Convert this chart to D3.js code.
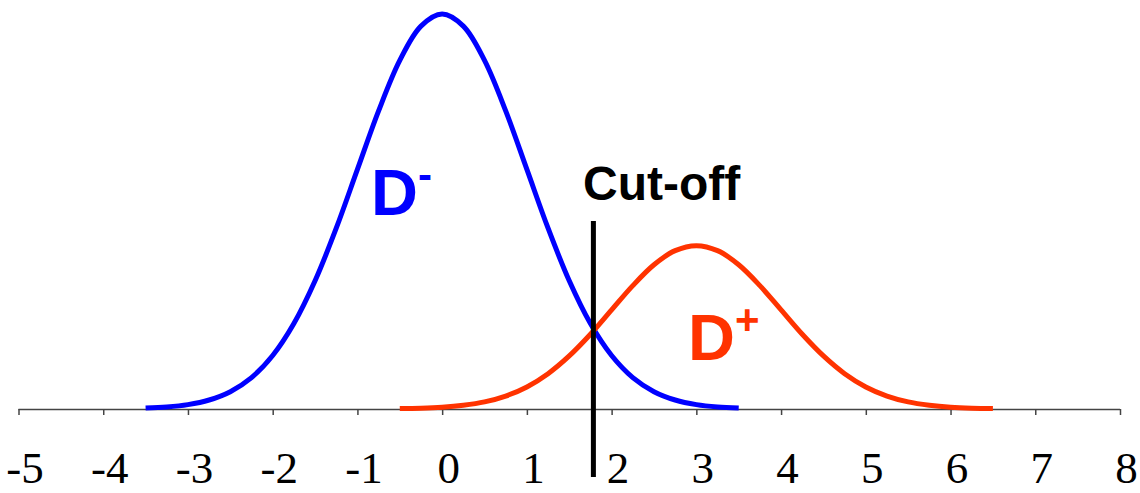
<!DOCTYPE html>
<html>
<head>
<meta charset="utf-8">
<script src="https://cdn.jsdelivr.net/npm/d3@7"></script>
<style>
  html, body { margin: 0; padding: 0; background: #fff; }
  svg { display: block; }
</style>
</head>
<body>
<svg id="chart" width="1140" height="493"></svg>
<script>
// Score axis ticks
const tickValues = [-5, -4, -3, -2, -1, 0, 1, 2, 3, 4, 5, 6, 7, 8];

// Non-diseased group (D-): score positions and curve heights
const negX = [-3.5, -3.25, -3, -2.75, -2.5, -2.25, -2, -1.75, -1.5, -1.25, -1, -0.75, -0.5, -0.25,
              0, 0.25, 0.5, 0.75, 1, 1.25, 1.5, 1.75, 2, 2.25, 2.5, 2.75, 3, 3.25, 3.5];
const negY = [0.0009, 0.0020, 0.0044, 0.0091, 0.0175, 0.0317, 0.0540, 0.0863, 0.1295, 0.1826, 0.2420, 0.3011, 0.3521, 0.3867,
              0.3989, 0.3867, 0.3521, 0.3011, 0.2420, 0.1826, 0.1295, 0.0863, 0.0540, 0.0317, 0.0175, 0.0091, 0.0044, 0.0020, 0.0009];

// Diseased group (D+): score positions and curve heights
const posX = [-0.5, -0.25, 0, 0.25, 0.5, 0.75, 1, 1.25, 1.5, 1.75, 2, 2.25, 2.5, 2.75,
              3, 3.25, 3.5, 3.75, 4, 4.25, 4.5, 4.75, 5, 5.25, 5.5, 5.75, 6, 6.25, 6.5];
const posY = [0.0004, 0.0008, 0.0018, 0.0038, 0.0072, 0.0131, 0.0223, 0.0357, 0.0536, 0.0755, 0.1001, 0.1246, 0.1457, 0.1600,
              0.1650, 0.1600, 0.1457, 0.1246, 0.1001, 0.0755, 0.0536, 0.0357, 0.0223, 0.0131, 0.0072, 0.0038, 0.0018, 0.0008, 0.0004];

// Decision threshold
const cutoff = [1.785];

const svg = d3.select("#chart");

const x = d3.scaleLinear().domain([-5, 8]).range([18.5, 1120]);
const y = d3.scaleLinear().domain([0, 0.4]).range([409, 13]);

// Axis
const axis = d3.axisBottom(x)
  .tickValues(tickValues)
  .tickSize(6)
  .tickPadding(0)
  .tickFormat(d3.format("d"));

const gAxis = svg.append("g")
  .attr("transform", `translate(0, ${y(0)})`)
  .call(axis);

gAxis.select(".domain")
  .attr("stroke", "#444")
  .attr("stroke-width", 1.5)
  .attr("d", `M${x(-5)},0.5H${x(8)}`);
gAxis.selectAll(".tick line").attr("stroke", "#444").attr("stroke-width", 1.5);
gAxis.selectAll(".tick text")
  .attr("font-family", "'Liberation Serif', 'Times New Roman', serif")
  .attr("font-size", 45)
  .attr("fill", "#000")
  .attr("dy", 0)
  .attr("x", 6)
  .attr("y", 74)
  .text(d => d < 0 ? "-" + Math.abs(d) : String(d));

const line = d3.line()
  .x(d => x(d[0]))
  .y(d => y(d[1]))
  .curve(d3.curveCatmullRom);

// D- curve
svg.append("path")
  .datum(negX.map((v, i) => [v, negY[i]]))
  .attr("fill", "none")
  .attr("stroke", "#0000ff")
  .attr("stroke-width", 5)
  .attr("stroke-linejoin", "round")
  .attr("d", line);

// D+ curve
svg.append("path")
  .datum(posX.map((v, i) => [v, posY[i]]))
  .attr("fill", "none")
  .attr("stroke", "#ff3300")
  .attr("stroke-width", 5)
  .attr("stroke-linejoin", "round")
  .attr("d", line);

// Cut-off line
svg.selectAll("line.cutoff")
  .data(cutoff)
  .join("line")
  .attr("class", "cutoff")
  .attr("x1", d => x(d)).attr("x2", d => x(d))
  .attr("y1", 221).attr("y2", 477)
  .attr("stroke", "#000")
  .attr("stroke-width", 5);

const sans = "'Liberation Sans', Arial, sans-serif";

svg.append("text")
  .attr("x", 583).attr("y", 200)
  .attr("font-family", sans)
  .attr("font-weight", "bold")
  .attr("font-size", 48)
  .attr("fill", "#000")
  .text("Cut-off");

// Group labels
const dNeg = svg.append("text")
  .attr("x", 371).attr("y", 215)
  .attr("font-family", sans)
  .attr("font-weight", "bold")
  .attr("font-size", 65)
  .attr("fill", "#0000ff");
dNeg.append("tspan").text("D");
dNeg.append("tspan").attr("font-size", 42).attr("dy", -26).text("-");

const dPos = svg.append("text")
  .attr("x", 688).attr("y", 360)
  .attr("font-family", sans)
  .attr("font-weight", "bold")
  .attr("font-size", 65)
  .attr("fill", "#ff3300");
dPos.append("tspan").text("D");
dPos.append("tspan").attr("font-size", 42).attr("dy", -26).text("+");
</script>
</body>
</html>
